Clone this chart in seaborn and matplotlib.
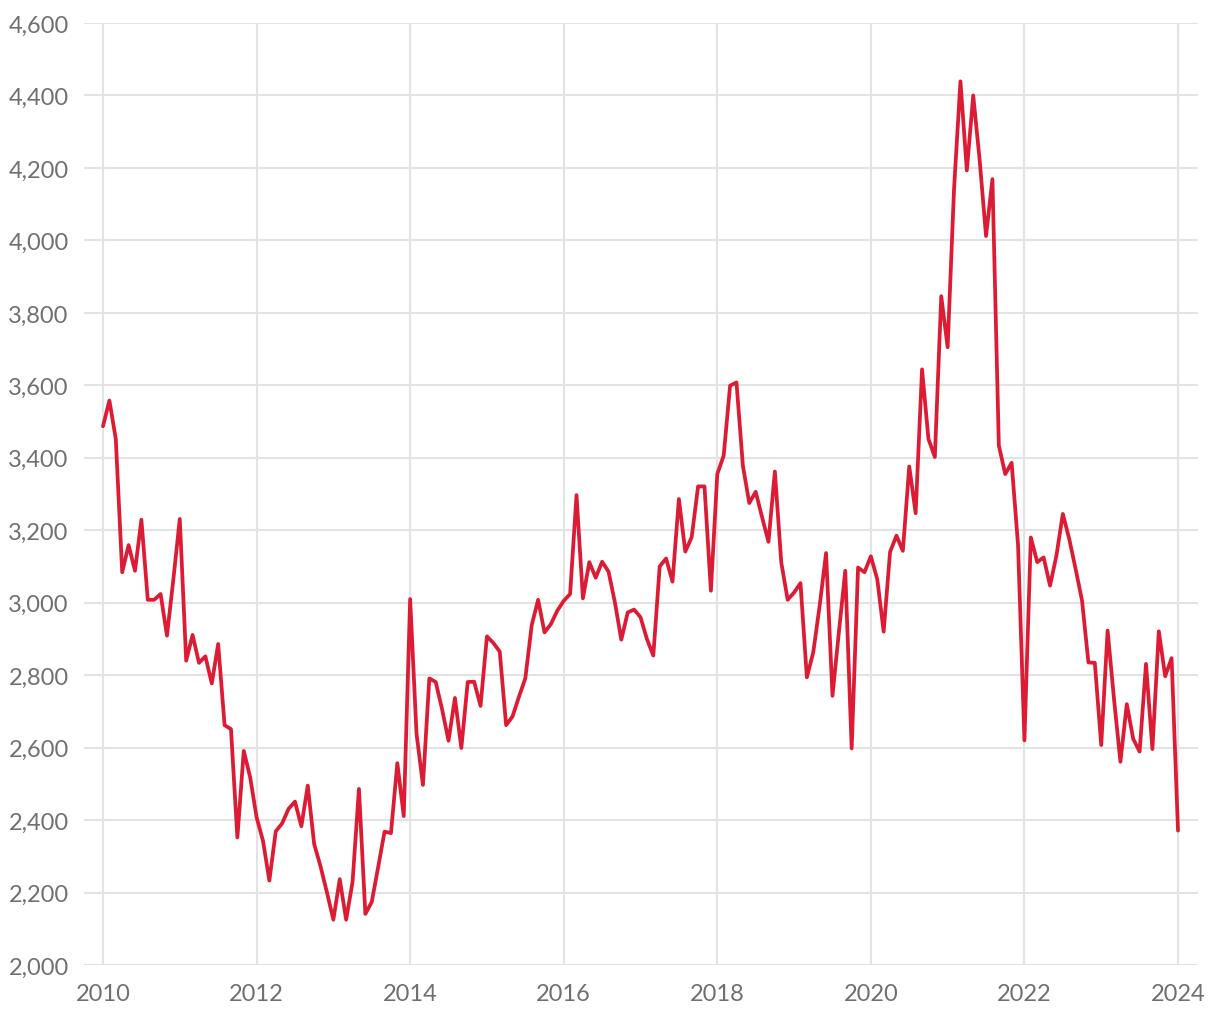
import numpy as np
import pandas as pd
import matplotlib
matplotlib.use("Agg")
import matplotlib.pyplot as plt
import seaborn as sns
from matplotlib.ticker import FuncFormatter

start_year = 2010
values = [
    3487, 3558, 3452, 3084, 3159, 3088, 3229, 3008, 3008, 3024, 2909, 3065,
    3231, 2840, 2911, 2834, 2852, 2777, 2886, 2662, 2651, 2352, 2591, 2518,
    2408, 2343, 2233, 2369, 2391, 2431, 2451, 2383, 2495, 2334, 2272, 2200,
    2125, 2237, 2125, 2229, 2486, 2141, 2174, 2270, 2368, 2364, 2557, 2411,
    3010, 2638, 2497, 2791, 2781, 2705, 2619, 2737, 2599, 2781, 2782, 2715,
    2907, 2889, 2865, 2662, 2686, 2740, 2791, 2938, 3008, 2918, 2941, 2978,
    3005, 3024, 3297, 3012, 3112, 3069, 3113, 3086, 3001, 2898, 2973, 2981,
    2960, 2900, 2854, 3100, 3122, 3058, 3286, 3141, 3181, 3321, 3321, 3033,
    3355, 3406, 3599, 3608, 3378, 3275, 3306, 3236, 3168, 3362, 3111, 3008,
    3028, 3054, 2794, 2863, 2992, 3137, 2743, 2918, 3088, 2598, 3097, 3084,
    3128, 3065, 2920, 3140, 3185, 3143, 3376, 3247, 3644, 3452, 3402, 3846,
    3705, 4142, 4439, 4193, 4400, 4222, 4012, 4169, 3434, 3355, 3386, 3160,
    2620, 3180, 3112, 3125, 3047, 3130, 3245, 3176, 3093, 3006, 2835, 2834,
    2607, 2923, 2734, 2561, 2720, 2624, 2589, 2831, 2596, 2921, 2797, 2847,
    2371,
]
x_ticks = [2010, 2012, 2014, 2016, 2018, 2020, 2022, 2024]
y_ticks = [2000, 2200, 2400, 2600, 2800, 3000, 3200, 3400, 3600, 3800, 4000, 4200, 4400, 4600]

df = pd.DataFrame({
    "year": start_year + np.arange(len(values)) / 12.0,
    "value": values,
})

sns.set_theme(style="white")
plt.rcParams["font.family"] = ["Lato", "DejaVu Sans"]

fig = plt.figure(figsize=(12.2, 10.2), dpi=100)
ax = fig.add_axes([84 / 1220, 1 - 966 / 1020, (1198 - 84) / 1220, (966 - 24) / 1020])

sns.lineplot(data=df, x="year", y="value", ax=ax, color="#dc1c34",
             linewidth=2.7, zorder=3)

ax.set_xlim(2010 - 19 / 76.8, 2024 + 20 / 76.8)
ax.set_ylim(2000, 4600)
ax.set_xticks(x_ticks)
ax.set_yticks(y_ticks)
ax.yaxis.set_major_formatter(FuncFormatter(lambda v, p: f"{int(v):,}"))
ax.xaxis.set_major_formatter(FuncFormatter(lambda v, p: f"{int(v)}"))

ax.grid(True, color="#e3e3e3", linewidth=1.5, zorder=0)
ax.set_axisbelow(True)
for s in ax.spines.values():
    s.set_visible(False)
ax.tick_params(axis="both", length=0, labelsize=17, labelcolor="#707070")
ax.tick_params(axis="y", pad=11)
ax.tick_params(axis="x", pad=13)
ax.set_xlabel("")
ax.set_ylabel("")

fig.savefig("out.png", dpi=100, facecolor="white")
